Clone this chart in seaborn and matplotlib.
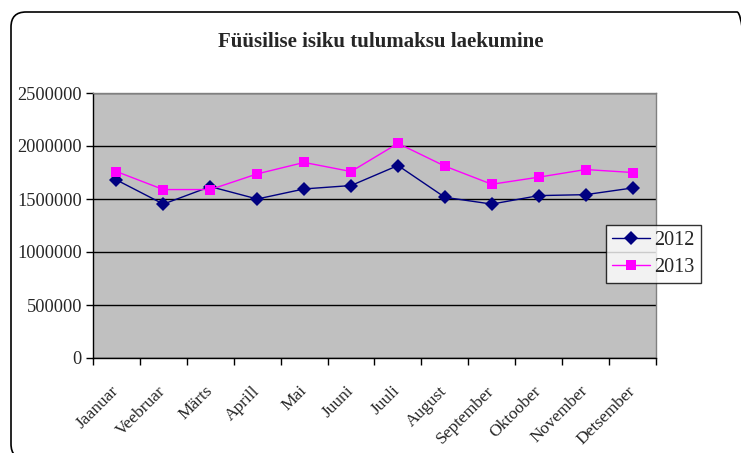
import matplotlib
matplotlib.use("Agg")
import matplotlib.pyplot as plt
import matplotlib.patches as mpatches
from matplotlib.transforms import IdentityTransform
import seaborn as sns
import pandas as pd
import numpy as np

months = ["Jaanuar", "Veebruar", "Märts", "Aprill", "Mai", "Juuni",
          "Juuli", "August", "September", "Oktoober", "November", "Detsember"]
v2012 = [1680000, 1452000, 1617000, 1500000, 1595000, 1627000,
         1816000, 1516000, 1452000, 1532000, 1541000, 1604000]
v2013 = [1759000, 1589000, 1589000, 1737000, 1845000, 1759000,
         2025000, 1810000, 1639000, 1706000, 1778000, 1750000]
series = ["2012", "2013"]
yticks = [0, 500000, 1000000, 1500000, 2000000, 2500000]

df = pd.DataFrame({
    "month": months * 2,
    "value": v2012 + v2013,
    "year": [series[0]] * 12 + [series[1]] * 12,
})

sns.set_theme(style="white")
plt.rcParams["font.family"] = ["Liberation Serif", "DejaVu Serif"]

W, H = 741, 453
fig = plt.figure(figsize=(W / 100, H / 100), dpi=100)
ax = fig.add_axes([93 / W, 1 - 358 / H, 563 / W, 265 / H])

palette = {"2012": "#000080", "2013": "#FF00FF"}
markers = {"2012": "D", "2013": "s"}
sns.lineplot(data=df, x="month", y="value", hue="year", style="year",
             palette=palette, markers=markers, dashes=False, sort=False,
             linewidth=1.0, markersize=7, markeredgewidth=0, ax=ax, legend=False)

ax.set_facecolor("#C0C0C0")
ax.set_xlim(-0.5, 11.5)
ax.set_ylim(0, 2500000)
ax.set_yticks(yticks)
ax.set_yticklabels([str(v) for v in yticks], fontsize=13.2)
ax.yaxis.grid(True, color="#000000", linewidth=1.0)
ax.set_axisbelow(True)
ax.set_xlabel("")
ax.set_ylabel("")

ax.set_xticks(range(12))
ax.set_xticklabels(months, rotation=45, ha="right", va="center",
                   rotation_mode="anchor", fontsize=12.5)
ax.set_xticks(np.arange(-0.5, 12, 1), minor=True)
ax.tick_params(axis="x", which="major", length=0, pad=22)
ax.tick_params(axis="x", which="minor", length=5, width=1, color="black", direction="out", bottom=True)
ax.tick_params(axis="y", which="major", length=5, width=1, color="black", direction="out", left=True, pad=3)

for s in ["left", "bottom"]:
    ax.spines[s].set_color("black")
    ax.spines[s].set_linewidth(1.0)
for s in ["top", "right"]:
    ax.spines[s].set_color("#808080")
    ax.spines[s].set_linewidth(1.0)

fig.text(381 / W, 1 - 42 / H, "Füüsilise isiku tulumaksu laekumine",
         ha="center", va="center", fontsize=15, fontweight="bold")

handles = [plt.Line2D([], [], color=palette[s], marker=markers[s], markersize=7.5,
                      markeredgewidth=0, linewidth=1.0) for s in series]
leg = fig.legend(handles, series, loc="upper left",
                 bbox_to_anchor=(606 / W, 1 - 225 / H), fontsize=14.5,
                 frameon=True, fancybox=False, borderpad=0.3, labelspacing=0.4,
                 handlelength=1.9, handletextpad=0.2, borderaxespad=0)
leg.get_frame().set_edgecolor("black")
leg.get_frame().set_linewidth(1.0)
leg.get_frame().set_facecolor("white")

border = mpatches.FancyBboxPatch((11, -6), 741, 447,
                                 boxstyle="round,pad=0,rounding_size=15",
                                 transform=IdentityTransform(),
                                 facecolor="none", edgecolor="black", linewidth=1.2)
fig.patches.append(border)

fig.savefig("out.png", dpi=100)
